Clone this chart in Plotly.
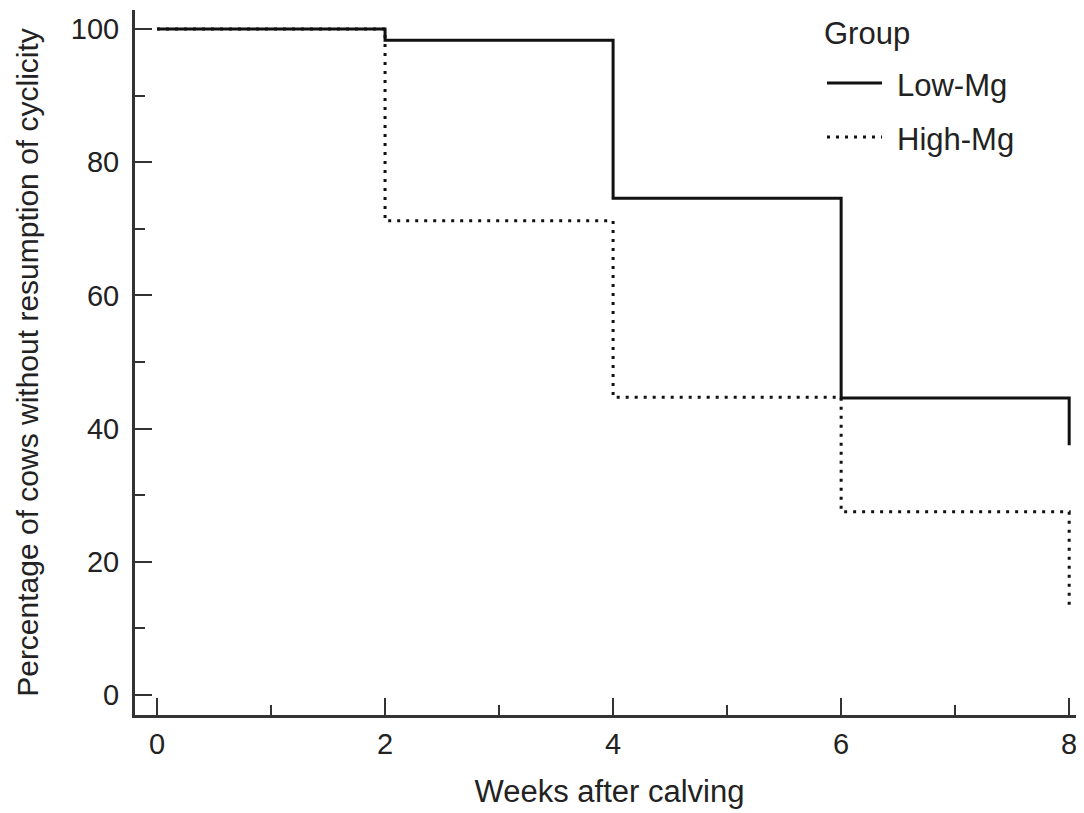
import plotly.graph_objects as go

# Data
weeks = [0, 2, 4, 6, 8]
low_mg = [100, 98.3, 74.6, 44.6, 37.5]
high_mg = [100, 71.2, 44.7, 27.5, 13.5]
series_names = ["Low-Mg", "High-Mg"]
x_ticks = [0, 2, 4, 6, 8]
y_ticks = [0, 20, 40, 60, 80, 100]

FONT = "Arial, Liberation Sans, sans-serif"
INK = "#222222"
AX = "#333333"
DOT = "3px,6px"

# page body margin offset (browser default)
OFF = 8
FIG_W, FIG_H = 1084 - OFF, 813 - OFF

fig = go.Figure()
fig.add_trace(go.Scatter(x=weeks, y=low_mg, mode="lines", line_shape="hv",
                         name=series_names[0], showlegend=False,
                         line=dict(color="#111111", width=3)))
fig.add_trace(go.Scatter(x=weeks, y=high_mg, mode="lines", line_shape="hv",
                         name=series_names[1], showlegend=False,
                         line=dict(color="#111111", width=3, dash=DOT)))

# Plot-area pixel geometry (in screen pixels, converted to figure pixels)
L, R, T, B = 135 - OFF, 1084 - OFF, 10 - OFF, 715 - OFF
W, H = R - L, B - T
def px(x):
    return (x - OFF - L) / W
def py(y):
    return (B - (y - OFF)) / H

# Manual legend (title, samples, labels)
LF = 31
fig.add_annotation(text="Group", xref="paper", yref="paper", x=px(822), y=py(33),
                   xanchor="left", yanchor="middle", showarrow=False,
                   font=dict(family=FONT, size=LF, color=INK))
fig.add_shape(type="line", xref="paper", yref="paper", x0=px(827), x1=px(882),
              y0=py(83), y1=py(83), line=dict(color="#111111", width=3))
fig.add_shape(type="line", xref="paper", yref="paper", x0=px(827), x1=px(882),
              y0=py(137), y1=py(137), line=dict(color="#111111", width=3, dash=DOT))
fig.add_annotation(text=series_names[0], xref="paper", yref="paper", x=px(895), y=py(85),
                   xanchor="left", yanchor="middle", showarrow=False,
                   font=dict(family=FONT, size=LF, color=INK))
fig.add_annotation(text=series_names[1], xref="paper", yref="paper", x=px(895), y=py(139),
                   xanchor="left", yanchor="middle", showarrow=False,
                   font=dict(family=FONT, size=LF, color=INK))

fig.update_layout(
    width=FIG_W, height=FIG_H,
    margin=dict(l=L, r=FIG_W - R, t=T, b=FIG_H - B),
    paper_bgcolor="white", plot_bgcolor="white",
    font=dict(family=FONT, size=28, color=INK),
    showlegend=False,
)
fig.update_xaxes(
    range=[-0.193, 8.13], tickvals=x_ticks, ticktext=[str(v) for v in x_ticks],
    showgrid=False, zeroline=False, showline=True, linewidth=3, linecolor=AX,
    ticks="inside", ticklen=17, tickwidth=2, tickcolor=AX,
    minor=dict(ticks="inside", ticklen=10, tickwidth=2, tickcolor=AX, dtick=1, tick0=0, showgrid=False),
    tickfont=dict(family=FONT, size=29, color=INK), ticklabelstandoff=1,
    title=dict(text="Weeks after calving", font=dict(family=FONT, size=31, color=INK), standoff=22),
)
fig.update_yaxes(
    range=[-3.0, 102.85], tickvals=y_ticks, ticktext=[str(v) for v in y_ticks],
    showgrid=False, zeroline=False, showline=True, linewidth=3, linecolor=AX,
    ticks="inside", ticklen=17, tickwidth=2, tickcolor=AX,
    minor=dict(ticks="inside", ticklen=10, tickwidth=2, tickcolor=AX, dtick=10, tick0=0, showgrid=False),
    tickfont=dict(family=FONT, size=29, color=INK), ticklabelstandoff=7,
    title=dict(text="Percentage of cows without resumption of cyclicity",
               font=dict(family=FONT, size=30, color=INK), standoff=24),
)

fig.write_html("out.html")
